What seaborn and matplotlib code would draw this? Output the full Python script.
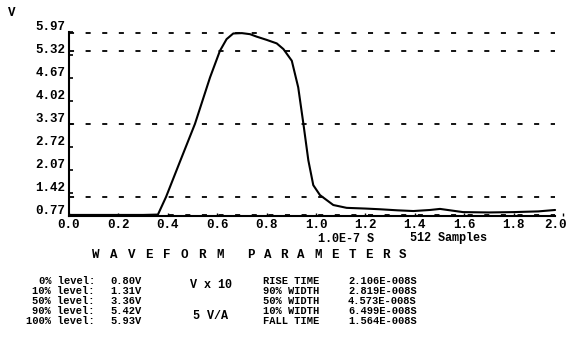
import matplotlib
matplotlib.use("Agg")
import matplotlib.pyplot as plt
import pandas as pd
import seaborn as sns

# ---- data ----
time = [0.0, 0.10, 0.20, 0.30, 0.36, 0.393, 0.449, 0.510, 0.571, 0.611, 0.638, 0.665,
        0.70, 0.733, 0.760, 0.80, 0.841, 0.868, 0.902, 0.928, 0.949, 0.969, 0.989,
        1.016, 1.070, 1.124, 1.20, 1.259, 1.33, 1.394, 1.462, 1.502, 1.595, 1.70,
        1.80, 1.90, 1.968]
volts = [0.80, 0.80, 0.80, 0.80, 0.81, 1.31, 2.30, 3.37, 4.68, 5.43, 5.76, 5.92,
         5.93, 5.90, 5.83, 5.74, 5.64, 5.48, 5.15, 4.40, 3.37, 2.34, 1.64,
         1.36, 1.08, 1.00, 0.98, 0.96, 0.93, 0.91, 0.94, 0.97, 0.88, 0.87,
         0.88, 0.90, 0.94]
levels = [5.93, 5.42, 3.36, 1.31, 0.80]
ytick_vals = [0.77, 1.42, 2.07, 2.72, 3.37, 4.02, 4.67, 5.32, 5.97]
xtick_vals = [0.0, 0.2, 0.4, 0.6, 0.8, 1.0, 1.2, 1.4, 1.6, 1.8, 2.0]
level_names = ["0% level:", "10% level:", "50% level:", "90% level:", "100% level:"]
level_values = ["0.80V", "1.31V", "3.36V", "5.42V", "5.93V"]
param_names = ["RISE TIME", "90% WIDTH", "50% WIDTH", "10% WIDTH", "FALL TIME"]
param_values = ["2.106E-008S", "2.819E-008S", "4.573E-008S", "6.499E-008S", "1.564E-008S"]
title_words = ["WAVEFORM", "PARAMETERS"]

sns.set_theme(style="white")
plt.rcParams['font.family'] = ['Liberation Mono', 'DejaVu Sans Mono']
plt.rcParams['font.weight'] = 'bold'

W, H = 568, 344
FS = 9
FS_TAB = 7.5
fig = plt.figure(figsize=(W / 100, H / 100), dpi=100)
ax = fig.add_axes([69 / W, 1 - 216 / H, (563 - 69) / W, (216 - 31.7) / H])

df = pd.DataFrame({"t": time, "v": volts})
ax.hlines(levels, 0, time[-1], colors="black", linestyles=(0, (2.8, 6.4)), lw=1.3)
sns.lineplot(data=df, x="t", y="v", ax=ax, color="black", lw=1.5, sort=False)

ax.set_xlim(0, 2.0)
ax.set_ylim(ytick_vals[0], ytick_vals[-1])
ax.set_xlabel("")
ax.set_ylabel("")
for s in ["top", "right"]:
    ax.spines[s].set_visible(False)
for s in ["left", "bottom"]:
    ax.spines[s].set_color("black")
    ax.spines[s].set_linewidth(1.5)
ax.spines["bottom"].set_bounds(0, time[-1])

ax.set_xticks(xtick_vals)
ax.set_xticklabels([])
ax.tick_params(axis="x", bottom=True, direction="in", length=2.5, width=1,
               colors="black")
ax.set_yticks(ytick_vals)
ax.set_yticklabels([])
ax.tick_params(axis="y", left=True, direction="in", length=3, width=1.2,
               colors="black")

for v in ytick_vals:
    ax.annotate(f"{v:.2f}", xy=(0, v), xycoords=("axes fraction", "data"),
                xytext=(-2.5, 3.5), textcoords="offset points",
                ha="right", va="center", fontsize=FS, color="black")
for i, v in enumerate(xtick_vals):
    last = i == len(xtick_vals) - 1
    ax.annotate(f"{v:.1f}", xy=(v, 0), xycoords=("data", "axes fraction"),
                xytext=(3.0 if last else 0, -6.6), textcoords="offset points",
                ha="right" if last else "center", va="center",
                fontsize=FS, color="black")


def ftext(x, y, s, ha="left", fs=FS):
    fig.text(x / W, 1 - y / H, s, ha=ha, va="center", fontsize=fs,
             color="black", fontweight="bold")


ftext(12, 13, "V", ha="center")
ftext(318, 238.5, "1.0E-7 S", fs=8.5)
ftext(410, 238.5, "512 Samples", fs=8.5)

starts = [96, 250.5]
steps = [17.7, 16.9]
for word, x0, st in zip(title_words, starts, steps):
    for i, ch in enumerate(word):
        ftext(x0 + i * st, 255, ch, ha="center")

rows = [281, 290.9, 300.8, 310.7, 320.6]
for y, n, v in zip(rows, level_names, level_values):
    ftext(95, y, n, ha="right", fs=FS_TAB)
    ftext(110, y, v, fs=FS_TAB)
for y, n, v in zip(rows, param_names, param_values):
    ftext(263, y, n, fs=FS_TAB)
    ftext(348, y, v, fs=FS_TAB)
ftext(190, 285, "V x 10", fs=8.5)
ftext(193, 316, "5 V/A", fs=8.5)

fig.savefig("out.png", dpi=100, facecolor="white")
